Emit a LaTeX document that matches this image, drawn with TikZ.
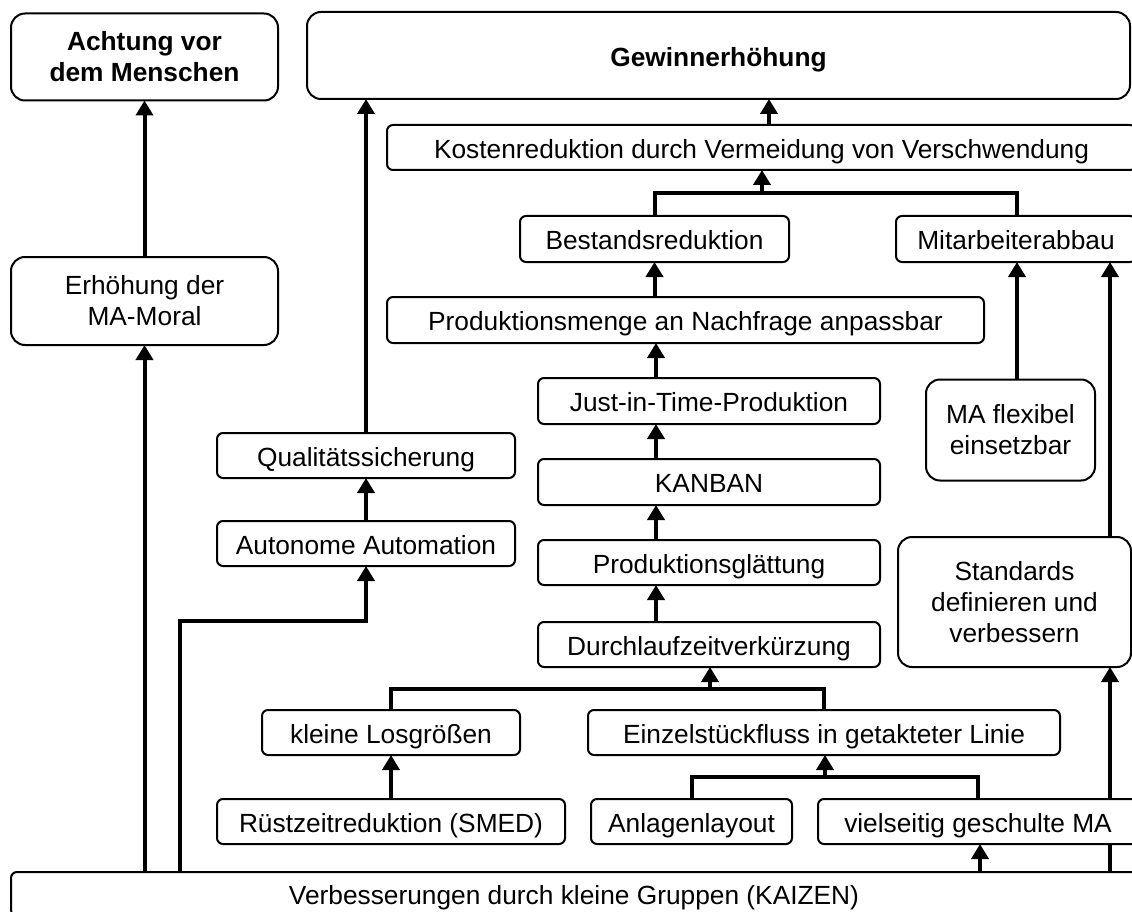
\documentclass[tikz,border=0pt]{standalone}
\usepackage{fontspec}
\setmainfont{Liberation Sans}
\usetikzlibrary{arrows.meta,backgrounds}

\newcommand{\boxfont}{\fontsize{26.3}{31}\selectfont}

\tikzset{
  box/.style={draw, fill=white, line width=2pt, rounded corners=6pt, inner sep=0pt,
              outer sep=0pt, align=center, font=\boxfont},
  sbox/.style={box, text height=21.5pt, text depth=0pt},
  bigbox/.style={box, rounded corners=14pt},
  conn/.style={line width=4pt},
  arr/.style={conn, -{Triangle[length=15pt,width=17pt]}},
}

\begin{document}
\begin{tikzpicture}[x=1pt, y=-1pt]
  \useasboundingbox (0,0) rectangle (1132,912);

  % goals (top row)
  \node[bigbox, minimum width=267pt, minimum height=87pt, font=\boxfont\bfseries]
    (achtung) at (144.5,57) {Achtung vor\\dem Menschen};
  \node[bigbox, sbox, rounded corners=14pt, minimum width=823pt, minimum height=87pt,
        font=\boxfont\bfseries]
    (gewinn) at (718.5,55.5) {Gewinnerhöhung};

  % left column
  \node[bigbox, minimum width=267pt, minimum height=88pt]
    (erhoehung) at (144.5,301) {Erhöhung der\\MA-Moral};
  \node[sbox, minimum width=298pt, minimum height=45pt]
    (qualitaet) at (366,455.5) {Qualitätssicherung};
  \node[sbox, minimum width=298pt, minimum height=45pt]
    (autonome) at (366,543.5) {Autonome Automation};

  % cost reduction chain
  \node[sbox, minimum width=749pt, minimum height=45pt]
    (kosten) at (761.5,147.5) {Kostenreduktion durch Vermeidung von Verschwendung};
  \node[sbox, minimum width=269pt, minimum height=46pt]
    (bestand) at (654.5,239) {Bestandsreduktion};
  \node[sbox, minimum width=240pt, minimum height=46pt]
    (mitarb) at (1016,239) {Mitarbeiterabbau};
  \node[sbox, minimum width=597pt, minimum height=46pt]
    (produktion) at (685.5,320) {Produktionsmenge an Nachfrage anpassbar};
  \node[sbox, minimum width=342pt, minimum height=46pt]
    (jit) at (709,401) {Just-in-Time-Produktion};
  \node[sbox, minimum width=342pt, minimum height=46pt]
    (kanban) at (709,482) {KANBAN};
  \node[sbox, minimum width=342pt, minimum height=45pt]
    (glaettung) at (709,562.5) {Produktionsglättung};
  \node[sbox, minimum width=342pt, minimum height=45pt]
    (durchlauf) at (709,644.5) {Durchlaufzeitverkürzung};

  % right column
  \node[bigbox, minimum width=169pt, minimum height=101pt]
    (flexibel) at (1010.5,430) {MA flexibel\\einsetzbar};
  \node[bigbox, minimum width=233pt, minimum height=130pt]
    (standards) at (1014.5,602) {Standards\\definieren und\\verbessern};

  % lower rows
  \node[sbox, minimum width=258pt, minimum height=45pt]
    (losgroesse) at (391,732.5) {kleine Losgrößen};
  \node[sbox, minimum width=472pt, minimum height=45pt]
    (einzel) at (824,732.5) {Einzelstückfluss in getakteter Linie};
  \node[sbox, minimum width=348pt, minimum height=45pt]
    (ruestzeit) at (391,821.5) {Rüstzeitreduktion (SMED)};
  \node[sbox, minimum width=201pt, minimum height=45pt]
    (anlagen) at (691.5,821.5) {Anlagenlayout};
  \node[sbox, minimum width=320pt, minimum height=45pt]
    (vielseitig) at (978,821.5) {vielseitig geschulte MA};

  % base
  \node[sbox, minimum width=1126pt, minimum height=44pt]
    (kaizen) at (574,894) {Verbesserungen durch kleine Gruppen (KAIZEN)};

  % reference columns and junctions
  \coordinate (chain) at (656,0);
  \coordinate (auto) at (180,621);
  \coordinate (stdcol) at (1110,0);
  \coordinate (mitcol) at (1017,0);
  \coordinate (kj) at (762,193);
  \coordinate (dj) at (710,688.5);
  \coordinate (ej) at (825,777);

  \begin{scope}[on background layer]
    % left side
    \draw[arr] (erhoehung.north) -- (achtung.south);
    \draw[arr] (kaizen.north -| erhoehung.south) -- (erhoehung.south);
    \draw[arr] (kaizen.north -| auto) |- (autonome.south |- auto) -- (autonome.south);
    \draw[arr] (autonome.north) -- (qualitaet.south);
    \draw[arr] (qualitaet.north) -- (gewinn.south -| qualitaet.north);

    % cost reduction to profit
    \draw[arr] ([xshift=7.5pt]kosten.north) -- ([xshift=7.5pt]kosten.north |- gewinn.south);
    \draw[conn] (bestand.north) |- (kj) -| (mitarb.north -| mitcol);
    \draw[arr] (kj) -- (kj |- kosten.south);
    \draw[arr] (bestand.south |- produktion.north) -- (bestand.south);

    % production chain
    \draw[arr] (jit.north -| chain) -- (produktion.south -| chain);
    \draw[arr] (kanban.north -| chain) -- (jit.south -| chain);
    \draw[arr] (glaettung.north -| chain) -- (kanban.south -| chain);
    \draw[arr] (durchlauf.north -| chain) -- (glaettung.south -| chain);

    % lead time reduction
    \draw[conn] (losgroesse.north) |- (dj) -| (einzel.north);
    \draw[arr] (dj) -- (dj |- durchlauf.south);
    \draw[arr] (ruestzeit.north) -- (losgroesse.south);
    \draw[conn] (anlagen.north) |- (ej) -| (vielseitig.north);
    \draw[arr] (ej) -- (ej |- einzel.south);
    \draw[arr] ([xshift=2pt]kaizen.north -| vielseitig.south) -- ([xshift=2pt]vielseitig.south);

    % staff reduction
    \draw[arr] (flexibel.north -| mitcol) -- (mitarb.south -| mitcol);
    \draw[arr] (standards.north -| stdcol) -- (mitarb.south -| stdcol);
    \draw[arr] (kaizen.north -| stdcol) -- (standards.south -| stdcol);
  \end{scope}
\end{tikzpicture}
\end{document}
